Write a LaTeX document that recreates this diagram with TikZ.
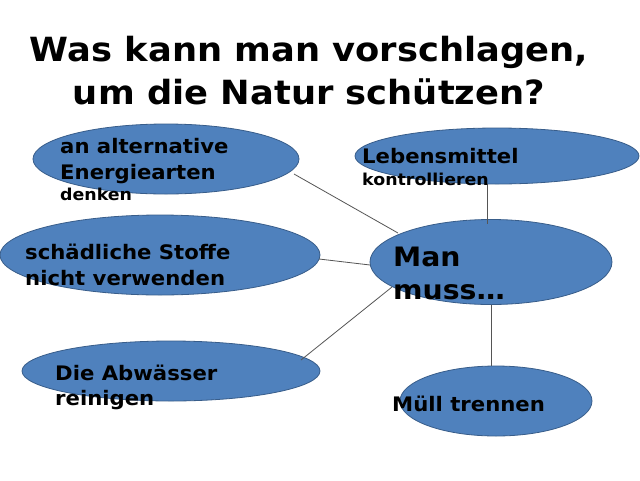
\documentclass[tikz,border=0pt]{standalone}
\usepackage{fontspec}
\setmainfont[FakeStretch=1.06]{DejaVu Sans}
\usetikzlibrary{shapes.geometric,calc}
\definecolor{bubble}{HTML}{4F81BD}
\definecolor{rim}{HTML}{385D8A}
\definecolor{link}{HTML}{555555}
\begin{document}
\begin{tikzpicture}[x=1pt,y=-1pt,
  bub/.style={ellipse,draw=rim,line width=0.8pt,fill=bubble,inner sep=0pt},
  lbl/.style={anchor=base west,inner sep=0pt,font=\bfseries\fontsize{20}{24}\selectfont},
  lbls/.style={anchor=base west,inner sep=0pt,font=\bfseries\fontsize{16.4}{19}\selectfont},
  lblb/.style={anchor=base west,inner sep=0pt,font=\bfseries\fontsize{26.7}{32}\selectfont},
  ttl/.style={anchor=base,inner sep=0pt,font=\bfseries\fontsize{33.3}{40}\selectfont},
  conn/.style={draw=link,line width=0.8pt}]
\useasboundingbox (0,0) rectangle (640,480);
\fill[white] (0,0) rectangle (640,480);
% title
\node[ttl] (t1) at (309,61) {Was kann man vorschlagen,};
\node[ttl] (t2) at (309,104) {um die Natur schützen?};
% ellipses
\node[bub,minimum width=266pt,minimum height=70pt] (e1) at (166,159) {};
\node[bub,minimum width=284pt,minimum height=56pt] (e2) at (497,156) {};
\node[bub,minimum width=320pt,minimum height=80pt] (e3) at (160,255) {};
\node[bub,minimum width=242pt,minimum height=85pt] (c) at (491,262) {};
\node[bub,minimum width=298pt,minimum height=60pt] (e5) at (171,371) {};
\node[bub,minimum width=192pt,minimum height=70pt] (e6) at (496,401) {};
% connectors
\draw[conn] ($(e1.center)+(128,15)$) -- ($(c.center)+(-93,-29)$);
\draw[conn] ($(e3.center)+(159,4)$) -- ($(c.center)+(-121,3)$);
\draw[conn] ($(e5.center)+(130,-11)$) -- ($(c.center)+(-99,25)$);
\draw[conn] ($(e2.center)+(-10,28)$) -- ($(c.center)+(-4,-38)$);
\draw[conn] ($(c.center)+(0,43)$) -- ($(e6.center)+(-5,-35)$);
% labels
\node[lbl] (a1) at (60,153) {an alternative};
\node[lbl] (a2) at (60,179) {Energiearten};
\node[lbls] (a3) at (60,200.5) {denken};
\node[lbl] (b1) at (362,163) {Lebensmittel};
\node[lbls] (b2) at (362,185) {kontrollieren};
\node[lbl] (s1) at (25,259) {schädliche Stoffe};
\node[lbl] (s2) at (25,285) {nicht verwenden};
\node[lblb] (m1) at (393,266.5) {Man};
\node[lblb] (m2) at (393,299.5) {muss…};
\node[lbl] (d1) at (55,380) {Die Abwässer};
\node[lbl] (d2) at (55,405) {reinigen};
\node[lbl] (u1) at (392,411) {Müll trennen};
\end{tikzpicture}
\end{document}
